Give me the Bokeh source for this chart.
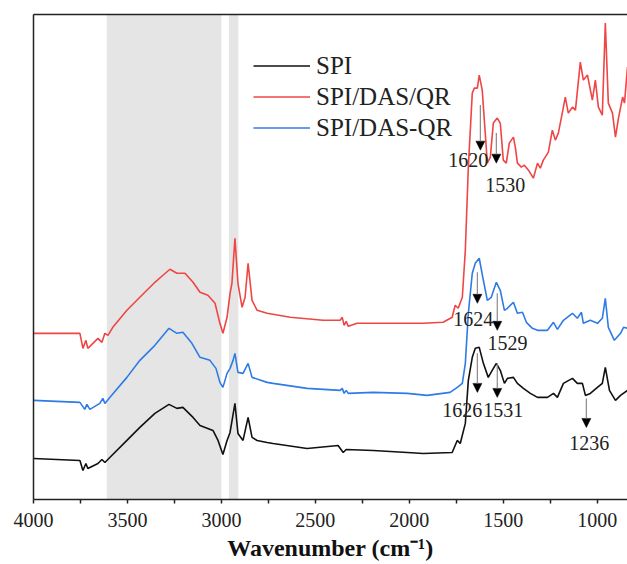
from bokeh.plotting import figure
from bokeh.models import (Range1d, FixedTicker, LinearAxis, Arrow, NormalHead,
                          ColumnDataSource, Legend, LegendItem)
from bokeh.core.properties import value
from bokeh.embed import file_html
from bokeh.resources import INLINE

# ---------------- data ----------------
# SPI/DAS/QR (red)
red_wn = [4000, 3753, 3737, 3721, 3711, 3684, 3657, 3636, 3620, 3604, 3578, 3503, 3434, 3354,
          3311, 3274, 3237, 3194, 3151, 3114, 3072, 3034, 3008, 2992, 2970, 2954, 2944, 2928,
          2912, 2890, 2874, 2858, 2837, 2810, 2757, 2634, 2459, 2368, 2357, 2347, 2336, 2325,
          2278, 2101, 1926, 1820, 1772, 1756, 1740, 1718, 1702, 1686, 1665, 1654, 1638, 1628,
          1612, 1596, 1585, 1569, 1553, 1532, 1516, 1500, 1484, 1468, 1446, 1436, 1425, 1404,
          1388, 1366, 1340, 1318, 1303, 1287, 1260, 1239, 1223, 1207, 1180, 1170, 1154, 1132,
          1116, 1090, 1074, 1052, 1026, 1010, 994, 973, 957, 941, 919, 903, 887, 865, 855, 839]
red_ab = [166, 166, 151, 159, 151, 156, 161, 157, 166, 164, 172, 189, 202, 217,
          224, 230, 226, 226, 217, 207, 204, 196, 176, 166, 182, 206, 216, 261,
          216, 192, 202, 236, 199, 189, 186, 182, 179, 179, 182, 174, 178, 173,
          176, 176, 176, 177, 182, 194, 191, 202, 249, 332, 406, 411, 411, 424,
          409, 366, 336, 342, 376, 381, 376, 339, 336, 356, 362, 352, 336, 332,
          334, 329, 321, 336, 331, 339, 347, 369, 359, 366, 392, 402, 386, 392,
          389, 437, 419, 424, 399, 419, 392, 384, 476, 396, 386, 362, 381, 402, 396, 432]

# SPI/DAS-QR (blue)
blue_wn = [4000, 3753, 3727, 3716, 3700, 3647, 3631, 3620, 3594, 3503, 3434, 3354, 3301, 3279,
           3237, 3205, 3157, 3114, 3061, 3029, 3008, 2992, 2970, 2954, 2938, 2928, 2912, 2885,
           2858, 2837, 2757, 2725, 2544, 2368, 2357, 2347, 2336, 2325, 2192, 2011, 1905, 1783,
           1745, 1718, 1702, 1686, 1665, 1649, 1628, 1606, 1585, 1564, 1537, 1516, 1494, 1478,
           1446, 1425, 1398, 1377, 1345, 1318, 1265, 1233, 1212, 1180, 1132, 1106, 1084, 1074,
           1037, 999, 973, 957, 941, 909, 876, 860, 839]
blue_ab = [99, 97, 90, 95, 90, 96, 101, 96, 102, 122, 139, 154, 166, 171,
           166, 167, 156, 142, 139, 131, 117, 112, 126, 131, 139, 146, 127, 126,
           136, 122, 117, 116, 111, 109, 111, 106, 109, 106, 107, 106, 104, 107,
           112, 116, 136, 186, 226, 236, 241, 219, 199, 202, 217, 209, 189, 191,
           197, 186, 187, 177, 171, 169, 169, 177, 170, 179, 186, 181, 187, 176,
           179, 176, 181, 201, 172, 159, 166, 172, 171]

# SPI (black)
black_wn = [4000, 3753, 3737, 3721, 3711, 3657, 3636, 3620, 3594, 3503, 3434, 3354, 3279, 3237,
            3205, 3151, 3114, 3045, 3018, 2992, 2970, 2954, 2928, 2912, 2885, 2858, 2837, 2810,
            2757, 2725, 2544, 2379, 2352, 2336, 2192, 2011, 1926, 1772, 1745, 1729, 1702, 1686,
            1665, 1649, 1628, 1606, 1580, 1559, 1537, 1516, 1494, 1478, 1446, 1425, 1393, 1356,
            1318, 1265, 1233, 1212, 1180, 1132, 1106, 1079, 1063, 1037, 999, 973, 957, 935,
            903, 876, 839]
black_ab = [41, 39, 29, 36, 31, 36, 40, 37, 42, 59, 72, 86, 95, 91,
            92, 82, 74, 69, 59, 45, 59, 67, 96, 66, 59, 82, 62, 59,
            57, 56, 51, 54, 47, 50, 49, 47, 46, 47, 59, 56, 76, 119,
            142, 151, 152, 136, 122, 129, 136, 129, 116, 121, 122, 116, 111, 106,
            102, 102, 106, 102, 116, 121, 116, 116, 104, 106, 112, 116, 132, 109,
            99, 104, 109]

series_names = ["SPI", "SPI/DAS/QR", "SPI/DAS-QR"]

# shaded regions (wavenumber limits)
band_hi = [3610, 2960]
band_lo = [3000, 2910]

# peak annotations
ann_text = ["1620", "1530", "1624", "1529", "1626", "1531", "1236"]
ann_x = [1622, 1537, 1638, 1532, 1638, 1532, 1058]
ann_y0 = [394, 366, 227, 206, 146, 136, 101]
ann_y1 = [349, 336, 196, 169, 107, 102, 72]
ann_lx = [1686, 1489, 1660, 1478, 1718, 1500, 1042]
ann_ly = [339, 314, 180, 156, 89, 89, 56]

major_ticks = [4000, 3500, 3000, 2500, 2000, 1500, 1000]
minor_ticks = [3750, 3250, 2750, 2250, 1750, 1250]

Y_MAX = 484.5
SERIF = "Liberation Serif"

# ---------------- figure ----------------
p = figure(width=627, height=564, output_backend="svg", toolbar_location=None,
           x_range=Range1d(4000, 839), y_range=Range1d(0, Y_MAX),
           min_border_left=33, min_border_right=0, min_border_top=14, min_border_bottom=65)
p.outline_line_color = None
p.grid.visible = False
p.background_fill_color = "white"
p.border_fill_color = "white"

for hi, lo in zip(band_hi, band_lo):
    p.varea(x=[hi, lo], y1=[0, 0], y2=[Y_MAX, Y_MAX], fill_color="#e5e5e5", fill_alpha=1.0)

r_black = p.line(black_wn, black_ab, line_color="#111111", line_width=1.6)
r_blue = p.line(blue_wn, blue_ab, line_color="#2f7be6", line_width=1.6)
r_red = p.line(red_wn, red_ab, line_color="#f04545", line_width=1.6)

# axes
xa = p.xaxis[0]
xa.ticker = FixedTicker(ticks=major_ticks, minor_ticks=minor_ticks)
xa.major_tick_in = 0
xa.major_tick_out = 4
xa.minor_tick_in = 0
xa.minor_tick_out = 4
xa.axis_line_width = 1.5
xa.axis_line_color = "#222222"
xa.major_tick_line_color = "#222222"
xa.major_tick_line_width = 1.5
xa.minor_tick_line_color = "#222222"
xa.minor_tick_line_width = 1.5
xa.major_label_text_font = SERIF
xa.major_label_text_font_size = "20px"
xa.major_label_text_color = "#222222"
xa.major_label_standoff = 9
xa.axis_label = "Wavenumber (cm\u207b\u00b9)"
xa.axis_label_text_font = SERIF
xa.axis_label_text_font_size = "24px"
xa.axis_label_text_font_style = "bold"
xa.axis_label_text_color = "#111111"
xa.axis_label_standoff = 5

ya = p.yaxis[0]
ya.major_tick_line_color = None
ya.minor_tick_line_color = None
ya.major_label_text_font_size = "0px"
ya.axis_line_width = 1.5
ya.axis_line_color = "#222222"
ya.ticker = FixedTicker(ticks=[])

top = LinearAxis(ticker=FixedTicker(ticks=[]), major_tick_line_color=None,
                 minor_tick_line_color=None, major_label_text_font_size="0px",
                 axis_line_width=1.5, axis_line_color="#222222")
p.add_layout(top, "above")

# annotations
asrc = ColumnDataSource(dict(xs=ann_x, ys=ann_y0, ye=ann_y1))
p.add_layout(Arrow(end=NormalHead(size=9, fill_color="black", line_color="black", line_width=0.5),
                   x_start="xs", y_start="ys", x_end="xs", y_end="ye",
                   line_color="#8a8a8a", line_width=1.2, source=asrc))
p.text(x=ann_lx, y=ann_ly, text=ann_text, text_font=value(SERIF), text_font_size="20px",
       text_align="center", text_baseline="middle", text_color="#222222")

legend = Legend(items=[LegendItem(label=series_names[0], renderers=[r_black]),
                       LegendItem(label=series_names[1], renderers=[r_red]),
                       LegendItem(label=series_names[2], renderers=[r_blue])],
                location=(220, 356), border_line_color=None, background_fill_alpha=0,
                padding=0, margin=0, spacing=0, glyph_width=57, glyph_height=31,
                label_height=31, label_standoff=6, label_text_font=SERIF,
                label_text_font_size="25px", label_text_color="#222222")
p.add_layout(legend)

open("out.html", "w").write(file_html(p, INLINE))
